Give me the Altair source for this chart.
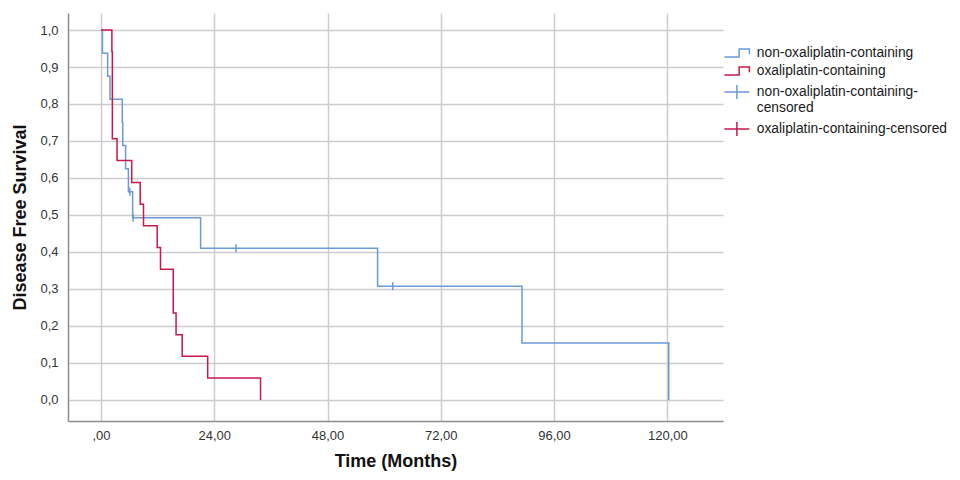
import altair as alt
import pandas as pd

NON = "non-oxaliplatin-containing"
OXA = "oxaliplatin-containing"
NON_C = "non-oxaliplatin-containing-censored"
OXA_C = "oxaliplatin-containing-censored"

# Kaplan-Meier steps (months, survival)
non_time = [0, 0.3, 1.4, 1.9, 4.5, 4.6, 5.2, 5.8, 6.7, 21.1, 58.6, 89.2, 120.3]
non_surv = [1.0, 0.9375, 0.875, 0.8125, 0.75, 0.6875, 0.625, 0.5625, 0.4922, 0.4102, 0.3076, 0.1538, 0.0]

oxa_time = [0, 2.3, 2.4, 3.4, 6.5, 8.3, 9.0, 11.9, 12.6, 15.3, 15.9, 17.2, 22.6, 33.8]
oxa_surv = [1.0, 0.941, 0.706, 0.647, 0.588, 0.529, 0.471, 0.412, 0.353, 0.235, 0.176, 0.118, 0.059, 0.0]

# censored observations
non_cens_time = [6.1, 6.8, 28.6, 61.8]
non_cens_surv = [0.5625, 0.4922, 0.4102, 0.3076]

series_names = [NON, OXA, NON_C, OXA_C]
series_colors = ["#6a9bd8", "#c8194b", "#6a9bd8", "#c8194b"]

x_ticks = [0, 24, 48, 72, 96, 120]
y_ticks = [0.0, 0.1, 0.2, 0.3, 0.4, 0.5, 0.6, 0.7, 0.8, 0.9, 1.0]

step_path = "M-2.5,0.8L0.45,0.8L0.45,-0.8L2.5,-0.8L2.5,0.25"
cross_path = "M-2.5,0L2.5,0M0,-1.4L0,1.4"
series_shapes = [step_path, step_path, cross_path, cross_path]

lines_df = pd.DataFrame({
    "time": non_time + oxa_time,
    "surv": non_surv + oxa_surv,
    "series": [NON] * len(non_time) + [OXA] * len(oxa_time),
})
cens_df = pd.DataFrame({
    "time": non_cens_time,
    "surv": non_cens_surv,
    "series": [NON_C] * len(non_cens_time),
})

# stroke scale for the drawn marks (no legend); its own domain so it is not merged with the legend
stroke_scale = alt.Scale(domain=series_names[:3], range=series_colors[:3])
color_scale = alt.Scale(domain=series_names, range=series_colors)
shape_scale = alt.Scale(domain=series_names, range=series_shapes)

x_enc = alt.X(
    "time:Q",
    scale=alt.Scale(domain=[-7.0, 131.8], nice=False, zero=False),
    axis=alt.Axis(
        values=x_ticks,
        labelExpr="datum.value == 0 ? ',00' : replace(format(datum.value, '.2f'), '.', ',')",
        title="Time (Months)",
        labelPadding=8,
        titlePadding=10,
    ),
)
y_enc = alt.Y(
    "surv:Q",
    scale=alt.Scale(domain=[-0.057, 1.046], nice=False, zero=False),
    axis=alt.Axis(
        values=y_ticks,
        labelExpr="replace(format(datum.value, '.1f'), '.', ',')",
        title="Disease Free Survival",
        labelPadding=10,
        titlePadding=10,
    ),
)

lines = alt.Chart(lines_df).mark_line(interpolate="step-after", strokeWidth=1.5).encode(
    x=x_enc,
    y=y_enc,
    stroke=alt.Stroke("series:N", scale=stroke_scale, legend=None),
)

cens = alt.Chart(cens_df).mark_point(
    shape="M0,-1L0,1", size=64, strokeWidth=1.5, filled=False, opacity=1
).encode(
    x="time:Q",
    y="surv:Q",
    stroke=alt.Stroke("series:N", scale=stroke_scale, legend=None),
)

legend_cfg = alt.Legend(
    title=None,
    orient="none",
    legendX=662,
    legendY=33,
    symbolSize=100,
    symbolStrokeWidth=1.5,
    symbolOpacity=1,
    labelFont="Liberation Sans",
    labelFontSize=13.8,
    labelColor="#1a1a1a",
    labelOffset=13,
    labelLimit=400,
    rowPadding=3,
    labelExpr="datum.label == '" + NON_C + "' ? ['non-oxaliplatin-containing-', 'censored'] : datum.label",
)

# invisible layer that only carries the legend
legend_layer = alt.Chart(lines_df).mark_point(
    filled=False, strokeWidth=1.5, opacity=0
).encode(
    x="time:Q",
    y="surv:Q",
    color=alt.Color("series:N", scale=color_scale, legend=legend_cfg),
    shape=alt.Shape("series:N", scale=shape_scale, legend=legend_cfg),
)

chart = alt.layer(lines, cens, legend_layer).properties(
    width=655,
    height=408,
    padding={"left": 60, "top": 5, "right": 229, "bottom": 51},
    autosize=alt.AutoSizeParams(type="none"),
).configure_view(
    stroke=None
).configure_axis(
    grid=True,
    gridColor="#cdcdcd",
    gridWidth=1.5,
    ticks=False,
    domainColor="#8c8c8c",
    domainWidth=1.5,
    labelFont="Liberation Sans",
    labelFontSize=13,
    labelColor="#333333",
    titleFont="Liberation Sans",
    titleFontSize=18,
    titleFontWeight="bold",
    titleColor="#111111",
)

chart.save("out.html", embed_options={"renderer": "svg", "actions": False})
